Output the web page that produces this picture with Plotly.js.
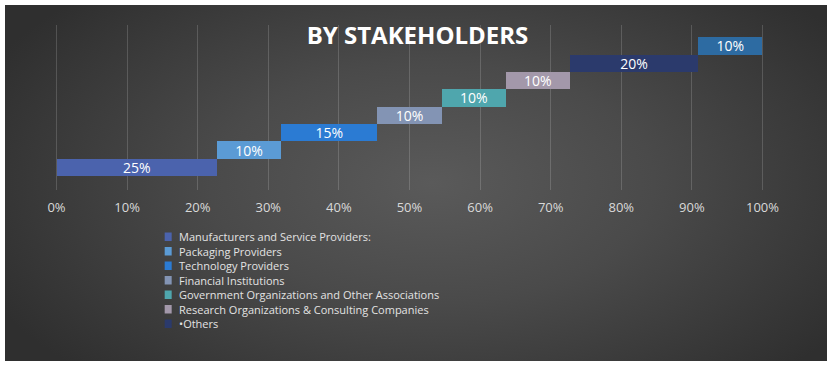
<!DOCTYPE html>
<html>
<head>
<meta charset="utf-8">
<script src="https://cdn.plot.ly/plotly-3.0.1.min.js"></script>
<style>
  html, body { margin: 0; padding: 0; background: #ffffff; }
  #frame {
    position: absolute; left: 5px; top: 5px; width: 822px; height: 356px;
    background: radial-gradient(ellipse 60% 75% at 52% 50%, #5a5a5a 0%, #4a4a4a 45%, #2f2f2f 100%);
  }
  #chart { position: absolute; left: 0; top: 0; width: 835px; height: 369px; }
</style>
</head>
<body>
<div id="frame"></div>
<div id="chart"></div>
<script>
const categories = [
  'Manufacturers and Service Providers:',
  'Packaging Providers',
  'Technology Providers',
  'Financial Institutions',
  'Government Organizations and Other Associations',
  'Research Organizations & Consulting Companies',
  '\u2022Others',
  'Others (2)'
];
const values = [25, 10, 15, 10, 10, 10, 20, 10];
const showInLegend = [true, true, true, true, true, true, true, false];
const colors = ['#4b63ad', '#5b9bd5', '#2b7bd3', '#8394b4', '#4fa6ad', '#a398aa', '#2b3a6c', '#2d6ba2'];
const tickValues = [0, 0.1, 0.2, 0.3, 0.4, 0.5, 0.6, 0.7, 0.8, 0.9, 1.0];
const tickLabels = ['0%', '10%', '20%', '30%', '40%', '50%', '60%', '70%', '80%', '90%', '100%'];

const total = values.reduce((a, b) => a + b, 0);
let cum = 0;
const traces = values.map((v, i) => {
  const base = cum / total;
  cum += v;
  return {
    type: 'bar',
    orientation: 'h',
    name: categories[i],
    y: [i],
    x: [v / total],
    base: [base],
    text: [v + '%'],
    textposition: 'inside',
    insidetextanchor: 'middle',
    textangle: 0,
    constraintext: 'none',
    textfont: { family: 'Open Sans, sans-serif', size: 14, color: '#ffffff' },
    marker: { color: colors[i], line: { width: 0 } },
    showlegend: false,
    hoverinfo: 'skip'
  };
});

// plot-area geometry (pixels) used to place the hand-drawn legend
const W = 835, H = 369;
const pad = 0.005;                 // small x-range padding so 0% / 100% gridlines are drawn
const pxPerUnit = 705;
const plotLeft = 57 - pad * pxPerUnit;
const plotWidth = (1 + 2 * pad) * pxPerUnit;
const plotTop = 25, plotBottom = 190;
const toPaperX = px => (px - plotLeft) / plotWidth;
const toPaperY = py => (plotBottom - py) / (plotBottom - plotTop);

const legendFirstRow = 236.5, legendRowStep = 14.5;
const shapes = [], annotations = [];
let row = 0;
categories.forEach((name, i) => {
  if (!showInLegend[i]) return;
  const cy = legendFirstRow + row * legendRowStep;
  shapes.push({
    type: 'rect', xref: 'paper', yref: 'paper',
    x0: toPaperX(165), x1: toPaperX(172),
    y0: toPaperY(cy + 4.5), y1: toPaperY(cy - 4),
    fillcolor: colors[i], line: { width: 0 }
  });
  annotations.push({
    xref: 'paper', yref: 'paper',
    x: toPaperX(177), y: toPaperY(cy),
    xanchor: 'left', yanchor: 'middle',
    text: name, showarrow: false,
    font: { family: 'Open Sans, sans-serif', size: 11, color: '#e3e3e3' }
  });
  row++;
});

const layout = {
  width: W,
  height: H,
  paper_bgcolor: 'rgba(0,0,0,0)',
  plot_bgcolor: 'rgba(0,0,0,0)',
  margin: { l: plotLeft, r: W - plotLeft - plotWidth, t: plotTop, b: H - plotBottom, pad: 0 },
  barmode: 'overlay',
  bargap: 0,
  showlegend: false,
  title: {
    text: '<b>BY STAKEHOLDERS</b>',
    font: { family: 'Open Sans, sans-serif', size: 24, color: '#ffffff' },
    x: 0.5, xref: 'container', xanchor: 'center',
    y: 1 - 36 / 369, yref: 'container', yanchor: 'middle'
  },
  xaxis: {
    range: [-pad, 1 + pad],
    tickvals: tickValues,
    ticktext: tickLabels,
    showgrid: true,
    gridcolor: 'rgba(255,255,255,0.16)',
    gridwidth: 1,
    zeroline: false,
    showline: false,
    ticks: '',
    automargin: false,
    ticklabelstandoff: 8,
    tickfont: { family: 'Open Sans, sans-serif', size: 13, color: '#d9d9d9' }
  },
  yaxis: {
    range: [-1.3, 8.2],
    showgrid: false,
    zeroline: false,
    showticklabels: false,
    automargin: false,
    ticks: ''
  },
  shapes: shapes,
  annotations: annotations
};

Plotly.newPlot('chart', traces, layout, { staticPlot: true, displayModeBar: false });
</script>
</body>
</html>
